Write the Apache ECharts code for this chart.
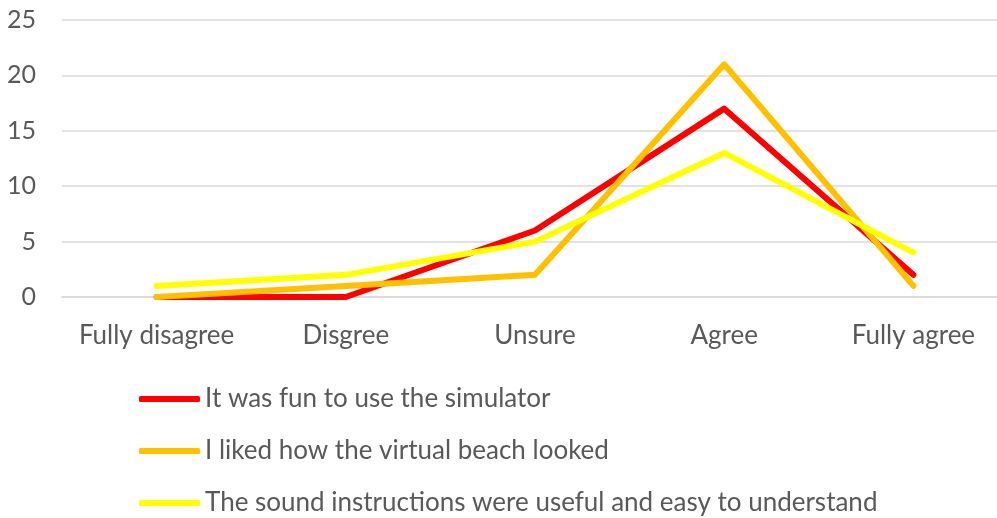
<!DOCTYPE html>
<html>
<head>
<meta charset="utf-8">
<script src="https://cdn.jsdelivr.net/npm/echarts@6/dist/echarts.min.js"></script>
<style>
  html, body { margin: 0; padding: 0; background: #fff; overflow: hidden; }
  /* the source chart runs past the right edge of the picture */
  #chart { width: 1008px; height: 518px; }
</style>
</head>
<body>
<div id="chart"></div>
<script>
var categories = ['Fully disagree', 'Disgree', 'Unsure', 'Agree', 'Fully agree'];
var funValues = [0, 0, 6, 17, 2];
var beachValues = [0, 1, 2, 21, 1];
var soundValues = [1, 2, 5, 13, 4];
var seriesNames = [
  'It was fun to use the simulator',
  'I liked how the virtual beach looked',
  'The sound instructions were useful and easy to understand'
];

var myChart = echarts.init(document.getElementById('chart'));

function lineSeries(name, data, color) {
  return {
    name: name,
    type: 'line',
    data: data,
    showSymbol: false,
    symbol: 'none',
    lineStyle: { color: color, width: 6, cap: 'round', join: 'round' },
    itemStyle: { color: color },
    animation: false
  };
}

var option = {
  textStyle: { fontFamily: 'Lato' },
  grid: { left: 62, right: 0, top: 20, height: 277 },
  xAxis: {
    type: 'category',
    data: categories,
    boundaryGap: true,
    axisLine: { show: true, lineStyle: { color: '#d9d9d9', width: 1.5 } },
    axisTick: { show: false },
    axisLabel: { color: '#595959', fontSize: 26, margin: 26, interval: 0 }
  },
  yAxis: {
    type: 'value',
    min: 0,
    max: 25,
    interval: 5,
    axisLine: { show: false },
    axisTick: { show: false },
    axisLabel: { color: '#595959', fontSize: 25, margin: 26 },
    splitLine: { lineStyle: { color: '#d9d9d9', width: 1.5 } }
  },
  legend: {
    orient: 'vertical',
    left: 139,
    top: 384,
    height: 200,
    padding: 0,
    icon: 'roundRect',
    itemWidth: 61,
    itemHeight: 6,
    itemGap: 22,
    textStyle: { color: '#595959', fontSize: 26, lineHeight: 30, fontFamily: 'Lato' },
    data: seriesNames
  },
  series: [
    lineSeries(seriesNames[0], funValues, '#ff0000'),
    lineSeries(seriesNames[1], beachValues, '#ffc000'),
    lineSeries(seriesNames[2], soundValues, '#ffff00')
  ]
};

myChart.setOption(option);
</script>
</body>
</html>
